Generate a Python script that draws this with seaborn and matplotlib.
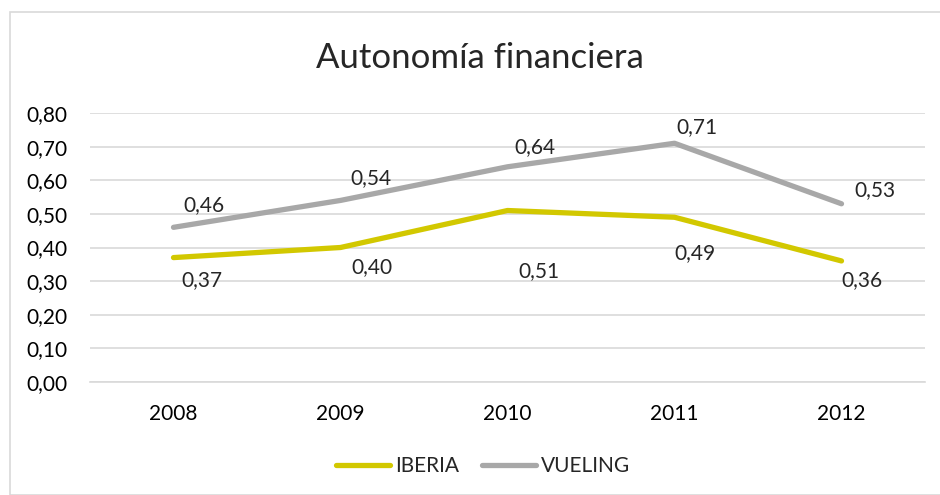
import matplotlib
matplotlib.use("Agg")
import matplotlib.pyplot as plt
from matplotlib.patches import Rectangle
import pandas as pd
import seaborn as sns

years = ["2008", "2009", "2010", "2011", "2012"]
iberia = [0.37, 0.40, 0.51, 0.49, 0.36]
vueling = [0.46, 0.54, 0.64, 0.71, 0.53]

# label offsets in pixels (dx, dy), hand placed as in the original
iberia_off = [(28, -23), (31, -20), (31, -61), (20, -36), (20, -19)]
vueling_off = [(30, 22), (30, 22), (27, 20), (22, 16), (33, 14)]

colors = {"IBERIA": "#d2c800", "VUELING": "#a8a8a8"}

df = pd.DataFrame({
    "year": years * 2,
    "value": iberia + vueling,
    "serie": ["IBERIA"] * 5 + ["VUELING"] * 5,
})

sns.set_style("white")
plt.rcParams["font.family"] = ["Lato", "DejaVu Sans"]

fig = plt.figure(figsize=(9.4, 4.95), dpi=100)
ax = fig.add_axes([90 / 940, 1 - 382 / 495, 835 / 940, 269 / 495])

sns.lineplot(data=df, x="year", y="value", hue="serie", palette=colors,
             linewidth=3.8, sort=False, ax=ax, solid_capstyle="round")

ax.set_xlim(-0.5, 4.5)
ax.set_ylim(0, 0.8)
ax.set_yticks([i / 10 for i in range(9)])
ax.set_yticklabels([f"{i / 10:.2f}".replace(".", ",") for i in range(9)])
ax.yaxis.grid(True, color="#d9d9d9", linewidth=1.2)
ax.set_axisbelow(True)
for s in ["top", "right", "left"]:
    ax.spines[s].set_visible(False)
ax.spines["bottom"].set_color("#d9d9d9")
ax.spines["bottom"].set_linewidth(1.2)
ax.tick_params(axis="both", length=0, labelsize=15, colors="#000000")
ax.tick_params(axis="y", pad=16)
ax.tick_params(axis="x", pad=16)
ax.set_xlabel("")
ax.set_ylabel("")

for vals, offs in [(iberia, iberia_off), (vueling, vueling_off)]:
    for i, (v, o) in enumerate(zip(vals, offs)):
        ax.annotate(f"{v:.2f}".replace(".", ","), (i, v), xytext=o,
                    textcoords="offset pixels", ha="center", va="center",
                    fontsize=15)

fig.text(480 / 940, 1 - 58 / 495, "Autonomía financiera", ha="center",
         va="center", fontsize=25)

handles, labels = ax.get_legend_handles_labels()
ax.legend_.remove()
fig.legend(handles, labels, loc="center", bbox_to_anchor=(483 / 940, 1 - 466 / 495),
           ncol=2, frameon=False, fontsize=15, handlelength=2.6,
           handletextpad=0.25, columnspacing=1.1)

fig.patches.append(Rectangle((10 / 940, 0), 1.0, 1 - 12 / 495, transform=fig.transFigure,
                             fill=False, edgecolor="#d9d9d9", linewidth=1.2))

fig.savefig("out.png", dpi=100)
